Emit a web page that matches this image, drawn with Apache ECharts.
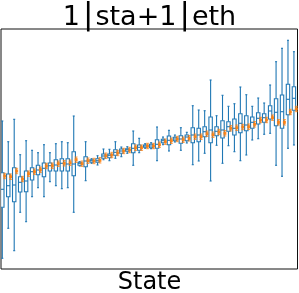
<!DOCTYPE html>
<html>
<head>
<meta charset="utf-8">
<script src="https://cdn.jsdelivr.net/npm/echarts@6/dist/echarts.min.js"></script>
<style>html,body{margin:0;padding:0;background:#fff;}#c{width:299px;height:293px;}</style>
</head>
<body>
<div id="c"></div>
<script>
// Boxplot statistics per state (arbitrary effect units)
const whiskerLow = [10.7,40.7,18.3,56.7,47.3,72.3,81.3,72.3,87.3,83.3,80.3,81.3,56.7,103,88.3,105.7,104,109.3,108.3,110.7,112.3,115.7,103.7,116.3,120.7,120.3,108.3,124.3,118,127,118.7,126,104.3,108,115.7,88,123.7,105.7,123.3,117.3,108.3,114,129,130.3,134.7,135.7,103.7,92.7,120.7,124];
const q1 = [61.7,72.3,67.3,77,77.3,89,94.3,92.3,98,98,98,98,93.3,103.7,102.3,106.7,106.7,110.7,111.3,113.7,115.7,117.7,116.3,118.7,121.7,121.3,120.7,126.3,124.3,128.3,125.7,128.3,126.3,127.3,132.3,126.3,133.3,131,137.7,134,136.3,138.3,140.7,145,146.7,150,143.3,140.7,154.3,158.7];
const medians = [79.7,83.3,84,86.7,88,97.3,99,100.7,103.3,104,105.7,105,105,105.7,108,108.3,108.3,113,113.7,116.7,118,119.3,120.7,121.7,123,123,124.7,128.3,128.7,130,130,132,134,134,137.3,139,137.7,139,142.3,140.7,145.7,144,146.7,150.7,151.3,158,156.7,157.3,169.7,170.7];
const q3 = [96.3,95,101.3,92.3,98,101.3,103.7,106,106,109.3,110.3,110.3,117.3,106.7,112.3,109.3,110.3,115,115,119.3,120,120.3,125.3,124,124,124.7,129.3,129.7,133,131.7,133.3,134,141.3,140.7,142.3,152,142.3,148.3,147.3,150,155.3,153.3,152,156.3,155.3,163.3,170.3,174,184.7,182.3];
const whiskerHigh = [148,127.3,149.7,114.3,128.3,118.7,116.3,124.3,116.3,125.3,127.3,126.3,153,107.3,127.3,110.3,113.3,120,119.7,127.3,122,122.3,138,130.7,125.3,126.3,142,132,138.7,134,141.3,136.7,163.3,159,158.3,189,153.3,173.7,162.7,165.3,182,174.3,162.7,171,166,184,207.3,220.7,228.7,217.3];
// Point estimates with their error (orange)
const pointEst = [93,92.3,98,90,95.3,97.3,99.3,103,103.3,105.3,105.7,106.3,109.3,105.3,108.3,108,108.7,113.3,114,116,118,119,121.3,121.3,123,123,124.3,127.3,128.3,130,129.3,130.7,132.3,132.3,135.3,134.3,137,135.7,140.7,141.3,142,142.3,144.7,149,149,151.3,146.7,146.7,157,160];
const pointErr = [2.7,2.7,2.7,2.7,2.7,2.7,2.7,2.7,2.7,2.7,2.7,2.7,2.7,2.7,2.7,2.7,2.7,2.7,2.7,2.7,2.7,2.7,2.7,2.7,2.7,2.7,2.7,2.7,2.7,2.7,2.7,2.7,2.7,2.7,2.7,2.7,2.7,2.7,2.7,2.7,2.7,2.7,2.7,2.7,2.7,2.7,2.7,2.7,2.7,2.7];
const titleText = '1|sta+1|eth';
const xLabel = 'State';

const boxData = whiskerLow.map((v, i) => [i, v, q1[i], medians[i], q3[i], whiskerHigh[i]]);
const ptData = pointEst.map((v, i) => [i, v, pointErr[i]]);

const BLUE = '#1f77b4';
const ORANGE = '#ff7f0e';
const BOX_HALF = 1.7;
const CAP_HALF = 1.0;
const PT_OFFSET = 0.4;

// title as rich text: pipes drawn taller, like the reference
const richTitle = titleText.split('|').map(s => '{t|' + s + '}').join('{p||}');

const chart = echarts.init(document.getElementById('c'), null, {renderer: 'canvas'});
chart.setOption({
  animation: false,
  backgroundColor: '#fff',
  grid: {left: 1, right: 1.5, top: 29, bottom: 24, show: true, borderColor: '#111', borderWidth: 1, backgroundColor: 'transparent'},
  xAxis: {type: 'value', min: -0.22, max: 49.6, show: false},
  yAxis: {type: 'value', min: 0, max: 240, show: false},
  graphic: [
    {type: 'text', left: 'center', top: 0, style: {
      text: richTitle, fill: '#000',
      rich: {
        t: {fontFamily: 'DejaVu Sans', fontSize: 27, fill: '#000', verticalAlign: 'bottom', lineHeight: 30},
        p: {fontFamily: 'DejaVu Sans', fontSize: 31, fill: '#000', padding: [0, 2, 0, 3], verticalAlign: 'bottom', lineHeight: 30}
      }
    }},
    {type: 'text', left: 'center', top: 271, style: {text: xLabel, fontFamily: 'DejaVu Sans', fontSize: 24, fill: '#000'}}
  ],
  series: [
    {
      type: 'custom',
      clip: true,
      data: boxData,
      encode: {x: 0, y: [1,2,3,4,5]},
      renderItem: function (params, api) {
        const x = api.value(0);
        const lo = api.coord([x, api.value(1)]);
        const a = api.coord([x, api.value(2)]);
        const m = api.coord([x, api.value(3)]);
        const b = api.coord([x, api.value(4)]);
        const hi = api.coord([x, api.value(5)]);
        const cx = lo[0];
        const ls = {stroke: BLUE, lineWidth: 1.1, fill: null};
        return {type: 'group', children: [
          {type: 'line', shape: {x1: cx, y1: hi[1], x2: cx, y2: b[1]}, style: ls},
          {type: 'line', shape: {x1: cx, y1: a[1], x2: cx, y2: lo[1]}, style: ls},
          {type: 'line', shape: {x1: cx - CAP_HALF, y1: hi[1], x2: cx + CAP_HALF, y2: hi[1]}, style: ls},
          {type: 'line', shape: {x1: cx - CAP_HALF, y1: lo[1], x2: cx + CAP_HALF, y2: lo[1]}, style: ls},
          {type: 'rect', shape: {x: cx - BOX_HALF, y: b[1], width: 2 * BOX_HALF, height: a[1] - b[1]}, style: {stroke: BLUE, lineWidth: 1.1, fill: '#fff'}},
          {type: 'line', shape: {x1: cx - BOX_HALF, y1: m[1], x2: cx + BOX_HALF, y2: m[1]}, style: ls}
        ]};
      }
    },
    {
      type: 'custom',
      clip: true,
      data: ptData,
      encode: {x: 0, y: 1},
      renderItem: function (params, api) {
        const x = api.value(0) + PT_OFFSET;
        const v = api.value(1), e = api.value(2);
        const p = api.coord([x, v]);
        const top = api.coord([x, v + e]);
        const bot = api.coord([x, v - e]);
        const ls = {stroke: ORANGE, lineWidth: 1, fill: null, opacity: 0.75};
        return {type: 'group', children: [
          {type: 'line', shape: {x1: p[0], y1: top[1], x2: p[0], y2: bot[1]}, style: ls},
          {type: 'line', shape: {x1: p[0] - 1.5, y1: top[1], x2: p[0] + 1.5, y2: top[1]}, style: ls},
          {type: 'line', shape: {x1: p[0] - 1.5, y1: bot[1], x2: p[0] + 1.5, y2: bot[1]}, style: ls},
          {type: 'rect', shape: {x: p[0] - 1.5, y: p[1] - 1.5, width: 3, height: 3}, style: {fill: ORANGE, opacity: 0.9}}
        ]};
      }
    }
  ]
});
</script>
</body>
</html>
